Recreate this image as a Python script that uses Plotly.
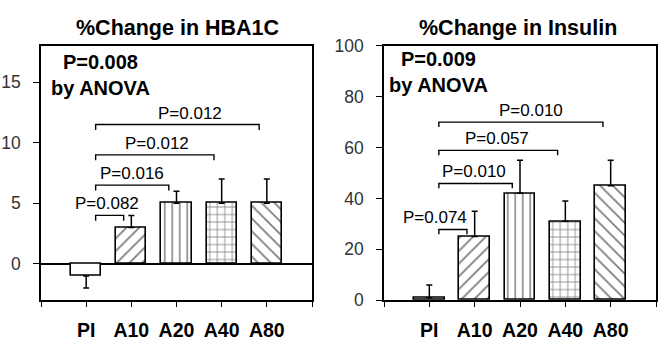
import plotly.graph_objects as go

categories = ["PI", "A10", "A20", "A40", "A80"]

hba1c_values = [-1, 3, 5, 5, 5]
hba1c_err = [1, 1, 1, 2, 2]
hba1c_pvals = ["P=0.082", "P=0.016", "P=0.012", "P=0.012"]
hba1c_bracket_y = [4.0, 6.5, 9.0, 11.5]
hba1c_label_x = [0.47, 1.02, 1.56, 2.29]
hba1c_anova = "P=0.008"

insulin_values = [1, 25, 42, 31, 45]
insulin_err = [5, 10, 13, 8, 10]
insulin_pvals = ["P=0.074", "P=0.010", "P=0.057", "P=0.010"]
insulin_bracket_y = [27.8, 45.9, 58.9, 70.0]
insulin_label_x = [0.13, 0.98, 1.49, 2.24]
insulin_anova = "P=0.009"

patterns = ["", "/", "|", "+", "\\"]
pattern_sizes = [8, 9, 7.5, 7.5, 9]

FONT = "Arial, Liberation Sans, sans-serif"

fig = go.Figure()
xpos = list(range(len(categories)))


def add_panel(values, errs, pvals, br_y, lab_x, anova, xa, ya, drop, xdom_ref, ydom_ref, anova_xy, title, title_x):
    plus = [e if v >= 0 else 0 for v, e in zip(values, errs)]
    minus = [e if v < 0 else 0 for v, e in zip(values, errs)]
    fig.add_trace(go.Bar(
        x=xpos, y=values, width=0.67, xaxis=xa, yaxis=ya,
        marker=dict(color="white", line=dict(color="black", width=1.6),
                    pattern=dict(shape=patterns, size=pattern_sizes, solidity=0.2,
                                 fgcolor="black", bgcolor="white", fillmode="overlay")),
        error_y=dict(type="data", symmetric=False, array=plus, arrayminus=minus,
                     color="black", thickness=1.5, width=3),
        showlegend=False, hoverinfo="skip"))
    for i, (p, h, lx) in enumerate(zip(pvals, br_y, lab_x)):
        x0 = 0.21
        x1 = (i + 1) - 0.17
        fig.add_trace(go.Scatter(
            x=[x0, x0, x1, x1], y=[h - drop, h, h, h - drop], mode="lines",
            line=dict(color="black", width=1.4), xaxis=xa, yaxis=ya,
            showlegend=False, hoverinfo="skip"))
        fig.add_annotation(x=lx, y=h, xref=xa, yref=ya, text=p, showarrow=False,
                           yanchor="bottom", xanchor="center",
                           font=dict(family=FONT, size=17, color="#000"))
    fig.add_annotation(x=anova_xy[0], y=anova_xy[1], xref=xdom_ref, yref=ydom_ref,
                       text="<b>%s<br>by ANOVA</b>" % anova, showarrow=False,
                       xanchor="center", yanchor="middle",
                       font=dict(family=FONT, size=20, color="#000"))
    fig.add_annotation(x=title_x, y=1 - 19.5 / 346, xref="paper", yref="paper",
                       text="<b>%s</b>" % title, showarrow=False,
                       xanchor="center", yanchor="middle",
                       font=dict(family=FONT, size=21.5, color="#000"))


add_panel(hba1c_values, hba1c_err, hba1c_pvals, hba1c_bracket_y, hba1c_label_x,
          hba1c_anova, "x", "y", 0.45, "x domain", "y domain", (0.221, 0.887),
          "%Change in HBA1C", 177.5 / 665)
add_panel(insulin_values, insulin_err, insulin_pvals, insulin_bracket_y, insulin_label_x,
          insulin_anova, "x2", "y2", 1.9, "x2 domain", "y2 domain", (0.202, 0.898),
          "%Change in Insulin", 518 / 665)

tickvals = [-1] + xpos + [len(categories)]
ticktext = [""] + ["<b>%s</b>" % c for c in categories] + [""]

xcommon = dict(range=[-1, 5], tickvals=tickvals, ticktext=ticktext, showgrid=False,
               zeroline=False, showline=True, linecolor="black", linewidth=1.5, mirror=True,
               ticks="outside", ticklen=5, tickwidth=1.2, tickcolor="black",
               tickfont=dict(family=FONT, size=19.5, color="#000"), ticklabelstandoff=7)
ycommon = dict(showgrid=False, showline=True, linecolor="black", linewidth=1.5, mirror=True,
               ticks="outside", ticklen=6, tickwidth=1.2, tickcolor="black",
               tickfont=dict(family=FONT, size=17.5, color="#333"), ticklabelstandoff=9)

fig.update_layout(
    width=665, height=346, margin=dict(l=0, r=0, t=0, b=0),
    paper_bgcolor="white", plot_bgcolor="white", bargap=0,
    xaxis=dict(domain=[41 / 665, 312 / 665], anchor="y", **xcommon),
    yaxis=dict(domain=[1 - 308 / 346, 1 - 38 / 346], anchor="x", range=[-3, 18],
               tickvals=[0, 5, 10, 15], zeroline=True, zerolinecolor="black",
               zerolinewidth=1.5, **ycommon),
    xaxis2=dict(domain=[384 / 665, 656 / 665], anchor="y2", **xcommon),
    yaxis2=dict(domain=[1 - 308 / 346, 1 - 38 / 346], anchor="x2", range=[0, 100],
                tickvals=[0, 20, 40, 60, 80, 100], zeroline=False, **ycommon),
)

fig.write_html("out.html")
